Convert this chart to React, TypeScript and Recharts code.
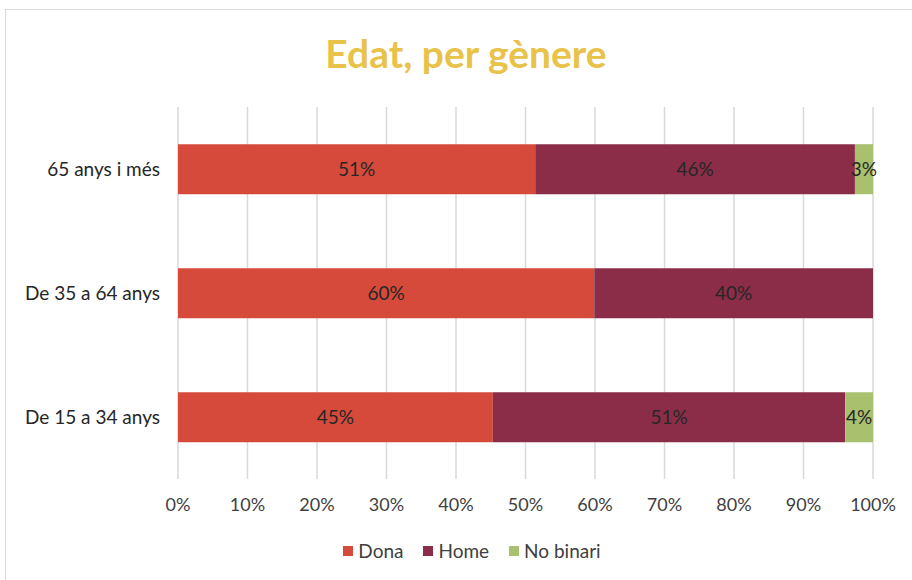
import { Bar, BarChart, CartesianGrid, LabelList, XAxis, YAxis } from "recharts";

const categories = ["65 anys i més", "De 35 a 64 anys", "De 15 a 34 anys"];
const dona = [51.4, 59.9, 45.3];
const home = [46.0, 40.1, 50.7];
const noBinari = [2.6, 0, 4.0];
const donaLabels = ["51%", "60%", "45%"];
const homeLabels = ["46%", "40%", "51%"];
const noBinariLabels = ["3%", "", "4%"];
const xTicks = [0, 10, 20, 30, 40, 50, 60, 70, 80, 90, 100];

const series = [
  { key: "dona", name: "Dona", color: "#D64A3B" },
  { key: "home", name: "Home", color: "#8B2D48" },
  { key: "noBinari", name: "No binari", color: "#A9C06E" },
];

const data = categories.map((cat, i) => ({
  cat,
  dona: dona[i],
  home: home[i],
  noBinari: noBinari[i],
  donaLabel: donaLabels[i],
  homeLabel: homeLabels[i],
  noBinariLabel: noBinariLabels[i],
}));

const font = "Lato, 'Open Sans', sans-serif";

export default function App() {
  return (
    <div style={{ position: "absolute", left: 0, top: 0, width: 912, height: 580, overflow: "hidden", background: "#fff", fontFamily: font }}>
      <div style={{ position: "absolute", left: 5, top: 9, width: 930, height: 600, border: "1px solid #d9d9d9", boxSizing: "border-box" }} />
      <div style={{ position: "absolute", left: 0, width: 932, top: 30, textAlign: "center", fontSize: 39, fontWeight: 700, color: "#E9C24A" }}>
        Edat, per gènere
      </div>
      <div style={{ position: "absolute", left: 0, top: 0 }}>
        <BarChart
          width={912}
          height={580}
          data={data}
          layout="vertical"
          margin={{ top: 107, right: 39, left: 0, bottom: 60 }}
          barCategoryGap="30%"
        >
          <CartesianGrid horizontal={false} stroke="#d9d9d9" strokeWidth={1.5} />
          <XAxis
            type="number"
            domain={[0, 100]}
            ticks={xTicks}
            tickFormatter={(v) => `${v}%`}
            axisLine={false}
            tickLine={false}
            tickSize={0}
            tickMargin={19}
            height={41}
            tick={{ fill: "#404040", fontSize: 18, fontFamily: font }}
            interval={0}
          />
          <YAxis
            type="category"
            dataKey="cat"
            width={178}
            axisLine={false}
            tickLine={false}
            tickSize={0}
            tickMargin={18}
            tick={{ fill: "#262626", fontSize: 19, fontFamily: font }}
          />
          {series.map((s) => (
            <Bar key={s.key} dataKey={s.key} name={s.name} stackId="a" fill={s.color} isAnimationActive={false}>
              <LabelList
                dataKey={`${s.key}Label`}
                position="center"
                fill="#262626"
                fontSize={19}
                fontFamily={font}
              />
            </Bar>
          ))}
        </BarChart>
      </div>
      <div style={{ position: "absolute", left: 0, width: 944, top: 539, display: "flex", justifyContent: "center", gap: 20, fontSize: 19, color: "#404040" }}>
        {series.map((s) => (
          <div key={s.key} style={{ display: "flex", alignItems: "center", gap: 5 }}>
            <span style={{ width: 10, height: 10, background: s.color, display: "inline-block" }} />
            <span>{s.name}</span>
          </div>
        ))}
      </div>
    </div>
  );
}
